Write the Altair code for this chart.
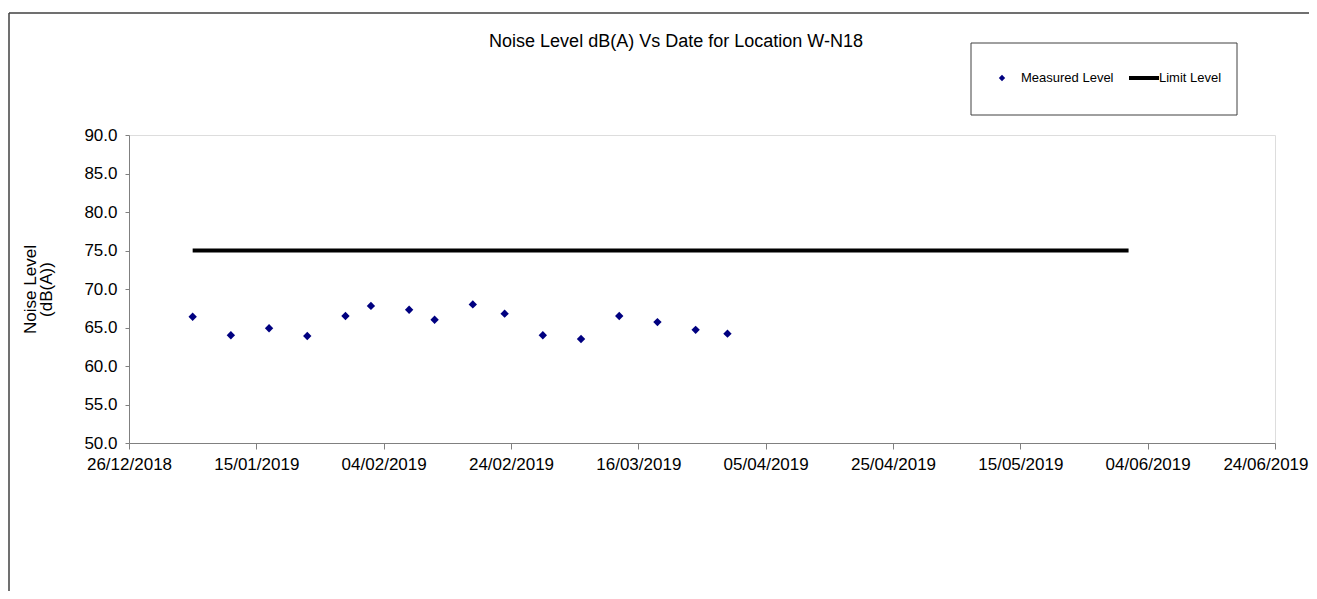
import altair as alt
import pandas as pd

# ---- data ----
meas_dates = ["2019-01-05", "2019-01-11", "2019-01-17", "2019-01-23", "2019-01-29",
              "2019-02-02", "2019-02-08", "2019-02-12", "2019-02-18", "2019-02-23",
              "2019-03-01", "2019-03-07", "2019-03-13", "2019-03-19", "2019-03-25",
              "2019-03-30"]
meas_levels = [66.4, 64.0, 64.9, 63.9, 66.5, 67.8, 67.3, 66.0, 68.0, 66.8,
               64.0, 63.5, 66.5, 65.7, 64.7, 64.2]
limit_dates = ["2019-01-05", "2019-06-01"]
limit_levels = [75.0, 75.0]
tick_dates = ["2018-12-26", "2019-01-15", "2019-02-04", "2019-02-24", "2019-03-16",
              "2019-04-05", "2019-04-25", "2019-05-15", "2019-06-04", "2019-06-24"]
y_ticks = [50, 55, 60, 65, 70, 75, 80, 85, 90]
legend_labels = ["Measured Level", "Limit Level"]
title_text = "Noise Level dB(A) Vs Date for Location W-N18"
y_title = ["Noise Level", "(dB(A))"]

FONT = "Liberation Sans"


def dt(s):
    y, m, d = (int(p) for p in s.split("-"))
    return alt.DateTime(year=y, month=m, date=d)


df_meas = pd.DataFrame({"date": pd.to_datetime(meas_dates), "level": meas_levels})
df_limit = pd.DataFrame({"date": pd.to_datetime(limit_dates), "level": limit_levels})

x_scale = alt.Scale(domain=[dt(tick_dates[0]), dt(tick_dates[-1])], nice=False)
y_scale = alt.Scale(domain=[y_ticks[0], y_ticks[-1]], nice=False, zero=False)

x_axis = alt.Axis(values=[dt(t) for t in tick_dates], format="%d/%m/%Y", title=None,
                  grid=False, labelFont=FONT, labelFontSize=17, labelColor="black",
                  domainColor="#808080", tickColor="#808080", tickSize=6,
                  labelPadding=7, labelOverlap=False, labelFlush=False,
                  labelAlign={"condition": {"test": "datum.index == 1", "value": "right"},
                              "value": "center"},
                  labelOffset={"condition": {"test": "datum.index == 1", "value": 33},
                               "value": 0})
y_axis = alt.Axis(values=y_ticks, tickCount=9, format=".1f", title=y_title, grid=False,
                  labelFont=FONT, labelFontSize=17, labelColor="black",
                  labelOverlap=False, labelFlush=False,
                  domainColor="#808080", tickColor="#808080", tickSize=4,
                  labelPadding=8, titleFont=FONT, titleFontSize=17,
                  titleFontWeight="normal", titleColor="black", titleAngle=-90,
                  titleX=-107, titleY=154, titleBaseline="top", titleAlign="center",
                  titleLineHeight=16)

limit = alt.Chart(df_limit).mark_line(color="black", strokeWidth=4).encode(
    x=alt.X("date:T", scale=x_scale, axis=x_axis),
    y=alt.Y("level:Q", scale=y_scale, axis=y_axis),
)
points = alt.Chart(df_meas).mark_point(shape="diamond", filled=True, size=70,
                                       color="#000080", opacity=1).encode(
    x=alt.X("date:T", scale=x_scale, axis=x_axis),
    y=alt.Y("level:Q", scale=y_scale, axis=y_axis),
)

one = pd.DataFrame({"k": [0]})

# chart title
title = alt.Chart(one).mark_text(text=title_text, font=FONT, fontSize=18, align="center",
                                 baseline="middle", color="black").encode(
    x=alt.value(547), y=alt.value(-93))

# outer chart-area frame (top and left edges)
frame_top = alt.Chart(one).mark_rule(color="#404040", strokeWidth=1.5).encode(
    x=alt.value(-120), x2=alt.value(1200), y=alt.value(-122))
frame_left = alt.Chart(one).mark_rule(color="#404040", strokeWidth=1.5).encode(
    x=alt.value(-120), y=alt.value(-122), y2=alt.value(460))

# legend box
leg_box = alt.Chart(one).mark_rect(fill="white", stroke="#404040", strokeWidth=1).encode(
    x=alt.value(842), x2=alt.value(1108), y=alt.value(-92), y2=alt.value(-20))
leg_pt = alt.Chart(one).mark_point(shape="diamond", filled=True, size=40,
                                   color="#000080", opacity=1).encode(
    x=alt.value(873), y=alt.value(-57))
leg_line = alt.Chart(one).mark_rule(color="black", strokeWidth=4).encode(
    x=alt.value(1000), x2=alt.value(1030), y=alt.value(-57))
leg_t1 = alt.Chart(one).mark_text(text=legend_labels[0], font=FONT, fontSize=13,
                                  align="left", baseline="middle", color="black").encode(
    x=alt.value(892), y=alt.value(-57))
leg_t2 = alt.Chart(one).mark_text(text=legend_labels[1], font=FONT, fontSize=13,
                                  align="left", baseline="middle", color="black").encode(
    x=alt.value(1030), y=alt.value(-57))

chart = alt.layer(
    frame_top, frame_left, title, limit, points, leg_box, leg_pt, leg_line, leg_t1, leg_t2
).properties(
    width=1146, height=308,
    autosize=alt.AutoSizeParams(type="none"),
    padding={"left": 121, "top": 127, "right": 34, "bottom": 148},
).configure_view(stroke="#808080", strokeWidth=1).configure(background="white")

chart.save("out.html", embed_options={"renderer": "svg", "actions": False})
